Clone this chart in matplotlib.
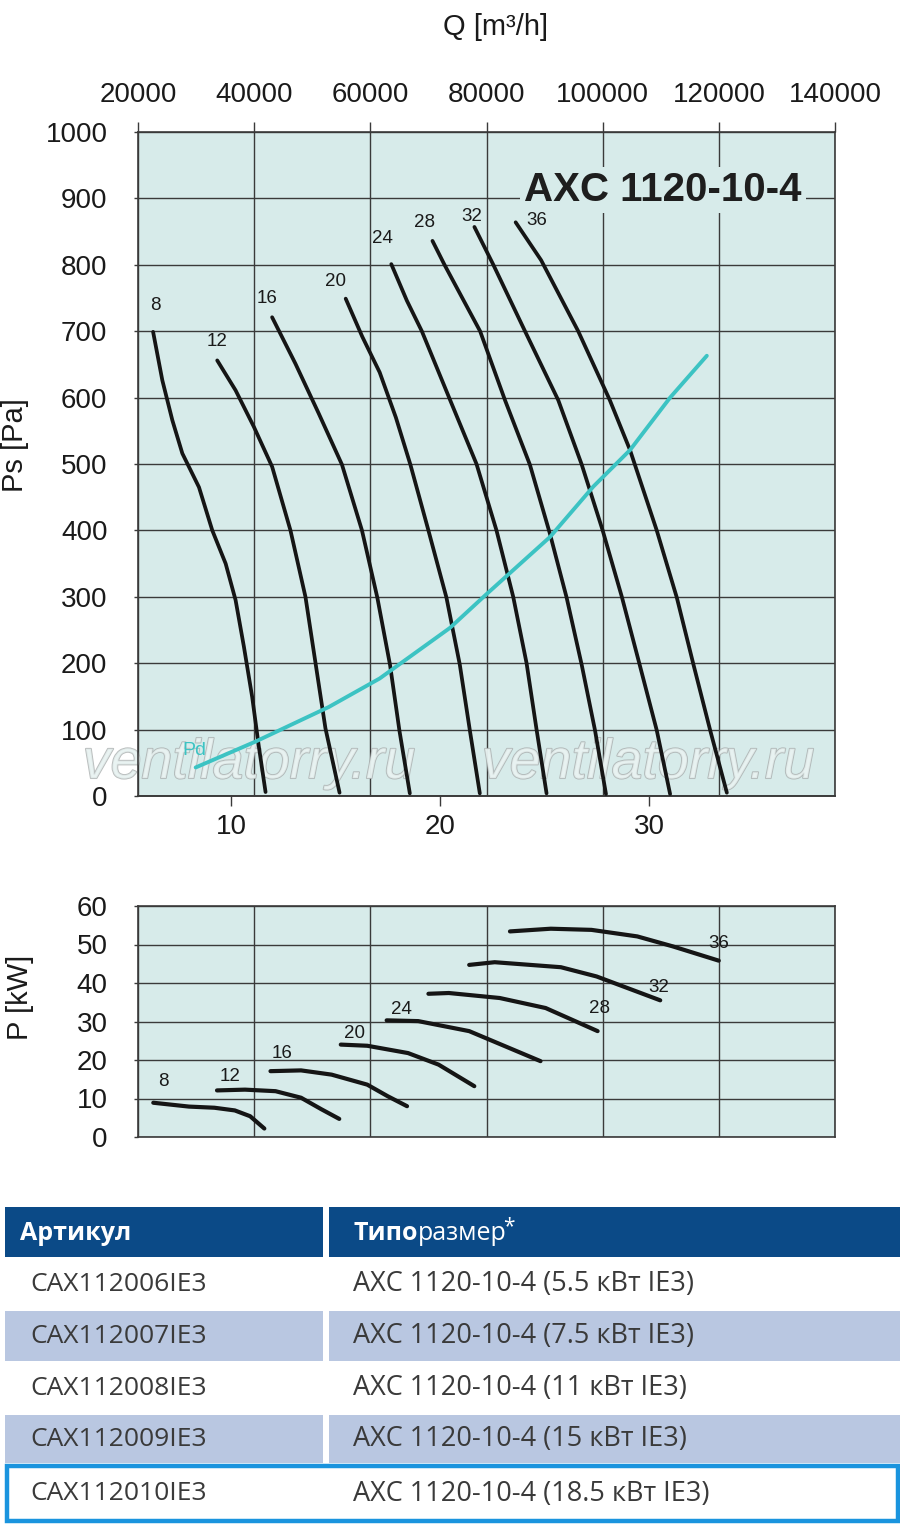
import numpy as np
import matplotlib.pyplot as plt
import matplotlib.patheffects as pe
from matplotlib.patches import Rectangle

plt.rcParams.update({
    "font.family": ["Liberation Sans", "DejaVu Sans"],
    "axes.unicode_minus": False,
})

BG = "#d7ebea"
GRID = "#3a3a3a"
PD_COLOR = "#3cc3c3"
LINE = "#151515"

# ===================== data: static pressure (Q m3/h, Ps Pa) =====================
angles = [8, 12, 16, 20, 24, 28, 32, 36]

q_ps_8 = [22600, 24190, 25910, 27630, 30500, 32790, 35090, 36800, 38230, 39660, 40810, 41960]
ps_8 = [699, 626, 566, 516, 465, 400, 350, 295, 225, 149, 74, 6]
q_ps_12 = [33640, 36800, 39950, 43090, 46250, 48830, 50550, 52270, 54700]
ps_12 = [656, 611, 556, 496, 400, 300, 201, 102, 5]
q_ps_16 = [43090, 47110, 51120, 55120, 58560, 61200, 63400, 65000, 66800]
ps_16 = [721, 651, 576, 499, 400, 299, 197, 99, 4]
q_ps_20 = [55760, 58600, 61610, 64400, 66900, 70000, 73100, 75400, 77130, 78850]
ps_20 = [749, 692, 638, 570, 499, 400, 299, 198, 99, 4]
q_ps_24 = [63610, 66290, 68870, 73750, 78280, 81720, 84600, 86900, 88620, 90340]
ps_24 = [801, 746, 700, 596, 500, 400, 300, 200, 100, 4]
q_ps_28 = [70700, 72770, 78900, 83190, 87470, 90920, 93790, 96380, 98680, 100570]
ps_28 = [836, 800, 700, 596, 499, 395, 299, 198, 99, 3]
q_ps_32 = [77920, 81180, 86630, 92360, 96400, 100000, 103300, 106300, 109310, 111610]
ps_32 = [857, 800, 700, 596, 499, 400, 300, 200, 99, 3]
q_ps_36 = [85020, 89400, 95790, 101240, 104710, 109310, 112760, 115630, 118510, 121380]
ps_36 = [864, 807, 700, 596, 521, 400, 299, 198, 99, 5]

# dynamic pressure
q_pd = [29930, 40240, 52840, 61610, 73680, 80000, 90920, 98390, 104710, 111610, 117930]
pd = [43, 82, 134, 177, 253, 304, 390, 466, 521, 600, 663]

# label anchor points (Q, Ps)
ps_label_q = [22950, 33620, 42200, 54050, 62120, 69340, 77420, 88700]
ps_label_v = [739, 685, 749, 775, 840, 864, 873, 866]

# ===================== data: shaft power (Q m3/h, P kW) =====================
q_p_8 = [22630, 28770, 33160, 36670, 39300, 41750]
p_8 = [8.9, 7.9, 7.6, 6.9, 5.4, 2.2]
q_p_12 = [33600, 38420, 43680, 48070, 51580, 54650]
p_12 = [12.1, 12.3, 11.9, 10.2, 7.2, 4.7]
q_p_16 = [42810, 48070, 53330, 59470, 62980, 66320]
p_16 = [17.1, 17.3, 16.2, 13.6, 10.6, 8.0]
q_p_20 = [54910, 59470, 66490, 71750, 77900]
p_20 = [24.0, 23.7, 21.8, 18.8, 13.2]
q_p_24 = [62810, 68250, 77020, 83160, 89300]
p_24 = [30.3, 30.1, 27.5, 23.6, 19.7]
q_p_28 = [70000, 73510, 82280, 90180, 99130]
p_28 = [37.2, 37.4, 36.1, 33.5, 27.5]
q_p_32 = [77020, 81410, 92810, 98950, 109910]
p_32 = [44.7, 45.4, 44.1, 41.7, 35.5]
q_p_36 = [84040, 91060, 98070, 105960, 112100, 119990]
p_36 = [53.4, 54.1, 53.8, 52.1, 49.5, 45.8]

p_label_q = [24390, 35790, 44740, 57280, 65440, 99390, 109650, 120000]
p_label_v = [14.5, 15.8, 21.8, 27.0, 33.1, 33.5, 38.9, 50.3]

# ===================== data: table =====================
header = ["Артикул", "Типоразмер"]
articles = ["CAX112006IE3", "CAX112007IE3", "CAX112008IE3", "CAX112009IE3", "CAX112010IE3"]
sizes = ["AXC 1120-10-4 (5.5 кВт IE3)", "AXC 1120-10-4 (7.5 кВт IE3)",
         "AXC 1120-10-4 (11 кВт IE3)", "AXC 1120-10-4 (15 кВт IE3)",
         "AXC 1120-10-4 (18.5 кВт IE3)"]

ps_curves = [(q_ps_8, ps_8), (q_ps_12, ps_12), (q_ps_16, ps_16), (q_ps_20, ps_20),
             (q_ps_24, ps_24), (q_ps_28, ps_28), (q_ps_32, ps_32), (q_ps_36, ps_36)]
p_curves = [(q_p_8, p_8), (q_p_12, p_12), (q_p_16, p_16), (q_p_20, p_20),
            (q_p_24, p_24), (q_p_28, p_28), (q_p_32, p_32), (q_p_36, p_36)]

W, H = 900, 1524
fig = plt.figure(figsize=(W / 100, H / 100), dpi=100)


def px_axes(x0, y0, x1, y1):
    # pixel box (top-left origin) -> figure fraction
    return [x0 / W, 1 - y1 / H, (x1 - x0) / W, (y1 - y0) / H]


def style_frame(ax):
    ax.set_facecolor(BG)
    for s in ax.spines.values():
        s.set_color(GRID)
        s.set_linewidth(1.2)
    ax.grid(True, color=GRID, linewidth=1.0)
    ax.set_axisbelow(True)


# ===================== 1. Ps chart =====================
ax1 = fig.add_axes(px_axes(138, 132, 835, 796))
style_frame(ax1)
ax1.set_xlim(20000, 140000)
ax1.set_ylim(0, 1000)
ax1.set_xticks(np.arange(20000, 140001, 20000))
ax1.set_xticklabels([str(v) for v in range(20000, 140001, 20000)])
ax1.set_yticks(np.arange(0, 1001, 100))
ax1.xaxis.tick_top()
ax1.tick_params(axis='x', top=True, bottom=False, length=7, width=1.0,
                color=GRID, pad=10, labelsize=20, colors='#1a1a1a')
ax1.tick_params(axis='y', length=3, width=1.0, color=GRID, pad=19,
                labelsize=20, colors='#1a1a1a')

sec = ax1.secondary_xaxis('bottom', functions=(lambda q: q / 3600, lambda v: v * 3600))
sec.set_xticks([10, 20, 30])
sec.tick_params(length=7, width=1.0, color=GRID, pad=6, labelsize=20, colors='#1a1a1a')
sec.spines['bottom'].set_color(GRID)
sec.spines['bottom'].set_linewidth(1.2)

# watermark
for wq in (39090, 107800):
    ax1.text(wq, 48, "ventilatorry.ru", fontsize=40, style='italic', color='#e9f3f2',
             ha='center', va='center', alpha=0.8, zorder=1.6,
             path_effects=[pe.withStroke(linewidth=1.3, foreground='#a8adad')])

for (q, v) in ps_curves:
    ax1.plot(q, v, color=LINE, lw=2.7, solid_capstyle='round', solid_joinstyle='round', zorder=3)
ax1.plot(q_pd, pd, color=PD_COLOR, lw=2.8, solid_capstyle='round', zorder=3.5)
ax1.text(29700, 69, "Pd", color=PD_COLOR, fontsize=14, ha='center', va='center', zorder=4)

ax1.text(110400, 912, "AXC 1120-10-4", fontsize=29, fontweight='bold', color='#1e1e1e',
         ha='center', va='center', zorder=4,
         bbox=dict(facecolor=BG, edgecolor='none', pad=3))

for a, lq, lv in zip(angles, ps_label_q, ps_label_v):
    ax1.text(lq, lv, str(a), fontsize=13.5, color='#1a1a1a', ha='center', va='center', zorder=5)

fig.text(496 / W, 1 - 27 / H, "Q [m³/h]", fontsize=21, ha='center', va='center', color='#1a1a1a')
fig.text(15 / W, 1 - 445 / H, "Ps [Pa]", fontsize=21, rotation=90, ha='center', va='center', color='#1a1a1a')

# ===================== 2. Power chart =====================
ax2 = fig.add_axes(px_axes(138, 906, 835, 1137))
style_frame(ax2)
ax2.set_xlim(20000, 140000)
ax2.set_ylim(0, 60)
ax2.set_xticks(np.arange(20000, 140001, 20000))
ax2.set_xticklabels([])
ax2.set_yticks(np.arange(0, 61, 10))
ax2.tick_params(axis='x', length=0)
ax2.tick_params(axis='y', length=3, width=1.0, color=GRID, pad=19, labelsize=20, colors='#1a1a1a')

for (q, v) in p_curves:
    ax2.plot(q, v, color=LINE, lw=3.0, solid_capstyle='round', solid_joinstyle='round', zorder=3)
for a, lq, lv in zip(angles, p_label_q, p_label_v):
    ax2.text(lq, lv, str(a), fontsize=13.5, color='#1a1a1a', ha='center', va='center', zorder=4)

fig.text(20 / W, 1 - 997 / H, "P [kW]", fontsize=21, rotation=90, ha='center', va='center', color='#1a1a1a')

# ===================== 3. Table =====================
axt = fig.add_axes(px_axes(0, 1200, 900, 1524))
axt.set_xlim(0, 900)
axt.set_ylim(1524, 1200)
axt.axis('off')

HEAD = "#0b4a87"
LIGHT = "#b9c7e1"
TXT = "#3a3a3a"
tfont = ["Open Sans", "DejaVu Sans"]

axt.add_patch(Rectangle((5, 1207), 318, 50, color=HEAD, lw=0))
axt.add_patch(Rectangle((329, 1207), 571, 50, color=HEAD, lw=0))
row_top = [1259, 1311, 1363, 1415, 1465]
row_h = [50, 50, 50, 48, 57]
for i, (art, size) in enumerate(zip(articles, sizes)):
    if i % 2 == 1:
        axt.add_patch(Rectangle((5, row_top[i]), 318, row_h[i], color=LIGHT, lw=0))
        axt.add_patch(Rectangle((329, row_top[i]), 571, row_h[i], color=LIGHT, lw=0))
    yc = row_top[i] + row_h[i] / 2
    axt.text(30, yc, art, fontsize=19, color=TXT, va='center', ha='left', family=tfont)
    axt.text(353, yc, size, fontsize=19.5, color=TXT, va='center', ha='left', family=tfont)

axt.add_patch(Rectangle((6.5, 1466), 891.5, 55, fill=False, edgecolor='#1a94de', lw=3.2))

axt.text(20, 1233, header[0], fontsize=18, color='white', fontweight='bold',
         va='center', ha='left', family=tfont)
t1 = axt.text(353, 1233, header[1][:4], fontsize=18, color='white', fontweight='bold',
              va='center', ha='left', family=tfont)
t2 = axt.annotate(header[1][4:], xy=(1, 0), xycoords=t1, va='bottom', ha='left',
                  fontsize=18, color='white', family=tfont)
axt.annotate("*", xy=(1, 1), xycoords=t2, va='top', ha='left', xytext=(-2, 3),
             textcoords='offset points', fontsize=15, color='white', family=tfont)

fig.savefig("out.png", dpi=100, facecolor='white')
